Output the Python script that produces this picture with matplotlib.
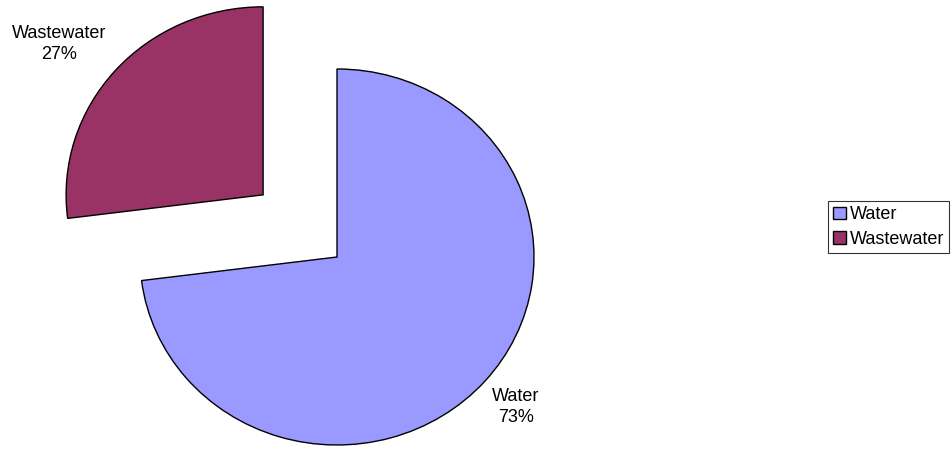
import numpy as np
import matplotlib.pyplot as plt

plt.rcParams['font.family'] = ['Liberation Sans', 'DejaVu Sans']

# data
categories = ['Water', 'Wastewater']
shares = [73, 27]
colors = ['#9999FF', '#993366']

fig = plt.figure(figsize=(9.52, 4.49), dpi=100)
ax = fig.add_axes([0, 0, 1, 1])

wedges, _ = ax.pie(shares, colors=colors, startangle=90, counterclock=False,
                   explode=[0, 0.5], radius=1,
                   wedgeprops=dict(edgecolor='black', linewidth=1.0))

# label positions (distance from slice centre, small angular nudge)
label_dist = [1.21, 1.31]
label_nudge = [0, 3.6]
total = sum(shares)
for w, name, val, d, nud in zip(wedges, categories, shares, label_dist, label_nudge):
    mid = np.deg2rad((w.theta1 + w.theta2) / 2 + nud)
    cx, cy = w.center
    ax.text(cx + d * np.cos(mid), cy + d * np.sin(mid),
            f"{name}\n{round(100 * val / total)}%",
            ha='center', va='center', fontsize=13, linespacing=1.3)

# map unit circle to ~197 x 188 px ellipse centred at (337, 257)
ax.set_aspect('auto')
ax.set_xlim(-337 / 197, (952 - 337) / 197)
ax.set_ylim(-(449 - 257) / 188, 257 / 188)
ax.axis('off')

leg = ax.legend(wedges, categories, loc='center left',
                bbox_to_anchor=(828 / 952, 1 - 227 / 449),
                fontsize=13, frameon=True, fancybox=False,
                handlelength=0.7, handleheight=0.7, handletextpad=0.2,
                borderpad=0.3, labelspacing=0.4, borderaxespad=0)
leg.get_frame().set_edgecolor('black')
leg.get_frame().set_linewidth(0.8)

fig.savefig('out.png', dpi=100)
